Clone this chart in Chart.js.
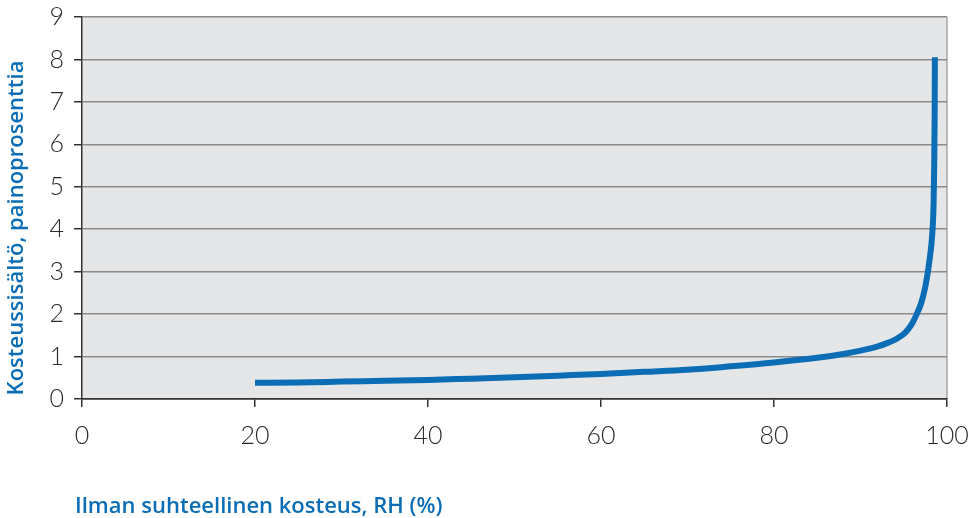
<!DOCTYPE html>
<html>
<head>
<meta charset="utf-8">
<script src="https://cdn.jsdelivr.net/npm/chart.js@4"></script>
<style>
  html, body { margin: 0; padding: 0; background: #ffffff; }
  #wrap { width: 975px; height: 518px; position: relative; }
</style>
</head>
<body>
<div id="wrap"><canvas id="myChart" width="975" height="518"></canvas></div>
<script>
// Sorption curve: relative humidity (%) vs moisture content (weight %)
const rhValues = [20, 25, 30, 35, 40, 45, 50, 55, 60, 65, 70, 75, 80, 85, 88, 90, 92, 93, 94, 95, 95.5, 96, 96.5, 97, 97.5, 98, 98.3, 98.45, 98.52, 98.57, 98.6];
const moistureValues = [0.38, 0.39, 0.41, 0.43, 0.45, 0.48, 0.51, 0.55, 0.59, 0.64, 0.69, 0.77, 0.86, 0.97, 1.06, 1.14, 1.24, 1.31, 1.4, 1.53, 1.64, 1.79, 2.0, 2.25, 2.65, 3.3, 3.9, 4.6, 5.5, 6.6, 8.05];
const xTicks = [0, 20, 40, 60, 80, 100];
const yTicks = [0, 1, 2, 3, 4, 5, 6, 7, 8, 9];

const xTitle = 'Ilman suhteellinen kosteus, RH (%)';
const yTitle = 'Kosteussisältö, painoprosenttia';

const blue = '#0a6db5';
const tickFont = { family: 'Lato', size: 25, weight: '300' };
const titleFont = '600 22px "Open Sans"';

// Grey plot background, right border and the two axis titles
const plotDecor = {
    id: 'plotDecor',
    beforeDraw(chart) {
        const { ctx, chartArea: a } = chart;
        ctx.save();
        ctx.fillStyle = '#e5e6e8';
        ctx.fillRect(a.left, a.top, a.right - a.left, a.bottom - a.top);
        ctx.strokeStyle = '#a5a6a8';
        ctx.lineWidth = 1.5;
        ctx.beginPath();
        ctx.moveTo(a.right, a.top);
        ctx.lineTo(a.right, a.bottom);
        ctx.stroke();
        ctx.restore();
    },
    afterDraw(chart) {
        const { ctx } = chart;
        ctx.save();
        ctx.fillStyle = blue;
        ctx.font = titleFont;
        ctx.textBaseline = 'middle';
        ctx.textAlign = 'left';
        ctx.fillText(xTitle, 75, 507);
        ctx.translate(17, 228);
        ctx.rotate(-Math.PI / 2);
        ctx.textAlign = 'center';
        ctx.fillText(yTitle, 0, 0);
        ctx.restore();
    }
};

const points = rhValues.map((x, i) => ({ x: x, y: moistureValues[i] }));

new Chart(document.getElementById('myChart'), {
    type: 'scatter',
    data: {
        datasets: [{
            data: points,
            showLine: true,
            borderColor: blue,
            backgroundColor: blue,
            borderWidth: 6,
            pointRadius: 0,
            cubicInterpolationMode: 'monotone',
            borderCapStyle: 'butt'
        }]
    },
    options: {
        responsive: false,
        animation: false,
        layout: { padding: { top: 17, right: 28, left: 0, bottom: 0 } },
        plugins: {
            legend: { display: false },
            tooltip: { enabled: false }
        },
        scales: {
            x: {
                type: 'linear',
                min: 0,
                max: 100,
                afterBuildTicks: (s) => { s.ticks = xTicks.map(v => ({ value: v })); },
                afterFit: (s) => {
                    s.height = 119;
                    s.paddingLeft = 0;
                    s.paddingRight = 0;
                },
                grid: {
                    drawOnChartArea: false,
                    drawTicks: true,
                    tickLength: 8,
                    color: '#333333',
                    lineWidth: 1.5
                },
                border: { color: '#333333', width: 1.5 },
                ticks: {
                    color: '#2a2a2a',
                    font: tickFont,
                    padding: 14,
                    maxRotation: 0
                }
            },
            y: {
                min: 0,
                max: 9,
                afterBuildTicks: (s) => { s.ticks = yTicks.map(v => ({ value: v })); },
                afterFit: (s) => {
                    s.width = 82;
                    s.paddingTop = 0;
                    s.paddingBottom = 0;
                },
                grid: {
                    drawTicks: true,
                    tickLength: 8,
                    color: (c) => c.tick && c.tick.value === 0 ? '#333333' : '#8a8a8a',
                    tickColor: '#333333',
                    lineWidth: 1.5
                },
                border: { color: '#333333', width: 1.5 },
                ticks: {
                    color: '#2a2a2a',
                    font: tickFont,
                    padding: 10
                }
            }
        }
    },
    plugins: [plotDecor]
});
</script>
</body>
</html>
